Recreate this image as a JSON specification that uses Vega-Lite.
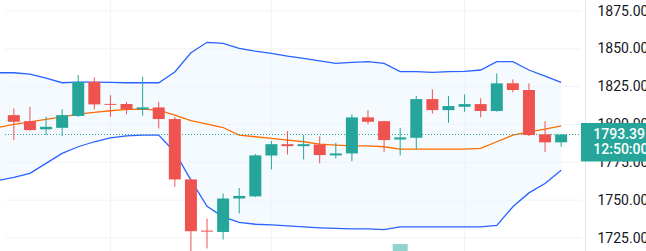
{
  "$schema": "https://vega.github.io/schema/vega-lite/v6.json",
  "width": 646,
  "height": 251,
  "padding": 0,
  "autosize": {"type": "none"},
  "background": "#ffffff",
  "config": {"view": {"stroke": null}},
  "datasets": {
    "candles": [
      {"i": 0, "open": 1806.2, "high": 1810.6, "low": 1789.7, "close": 1801.8},
      {"i": 1, "open": 1802.2, "high": 1811.7, "low": 1796.0, "close": 1796.3},
      {"i": 2, "open": 1796.8, "high": 1805.1, "low": 1793.0, "close": 1798.5},
      {"i": 3, "open": 1797.8, "high": 1810.0, "low": 1792.3, "close": 1806.2},
      {"i": 4, "open": 1805.6, "high": 1832.7, "low": 1805.0, "close": 1828.2},
      {"i": 5, "open": 1828.2, "high": 1831.2, "low": 1810.0, "close": 1813.3},
      {"i": 6, "open": 1813.6, "high": 1819.4, "low": 1805.1, "close": 1813.0},
      {"i": 7, "open": 1813.5, "high": 1815.0, "low": 1806.7, "close": 1810.0},
      {"i": 8, "open": 1810.0, "high": 1831.5, "low": 1805.8, "close": 1811.3},
      {"i": 9, "open": 1811.3, "high": 1815.0, "low": 1797.4, "close": 1803.6},
      {"i": 10, "open": 1803.6, "high": 1805.1, "low": 1758.8, "close": 1763.7},
      {"i": 11, "open": 1763.7, "high": 1764.2, "low": 1712.0, "close": 1729.5},
      {"i": 12, "open": 1729.9, "high": 1737.9, "low": 1718.1, "close": 1729.2},
      {"i": 13, "open": 1729.0, "high": 1754.4, "low": 1724.0, "close": 1751.1},
      {"i": 14, "open": 1751.1, "high": 1758.1, "low": 1741.2, "close": 1752.8},
      {"i": 15, "open": 1752.5, "high": 1780.5, "low": 1752.0, "close": 1779.6},
      {"i": 16, "open": 1779.5, "high": 1789.2, "low": 1770.3, "close": 1787.0},
      {"i": 17, "open": 1787.0, "high": 1795.6, "low": 1780.2, "close": 1785.7},
      {"i": 18, "open": 1785.7, "high": 1793.0, "low": 1776.9, "close": 1787.0},
      {"i": 19, "open": 1786.8, "high": 1792.3, "low": 1774.3, "close": 1779.8},
      {"i": 20, "open": 1779.6, "high": 1787.9, "low": 1777.6, "close": 1780.9},
      {"i": 21, "open": 1780.9, "high": 1806.7, "low": 1775.8, "close": 1804.7},
      {"i": 22, "open": 1804.7, "high": 1809.5, "low": 1800.3, "close": 1801.8},
      {"i": 23, "open": 1802.2, "high": 1802.5, "low": 1781.9, "close": 1789.7},
      {"i": 24, "open": 1790.1, "high": 1797.8, "low": 1779.6, "close": 1791.5},
      {"i": 25, "open": 1791.2, "high": 1818.8, "low": 1783.5, "close": 1816.8},
      {"i": 26, "open": 1816.8, "high": 1823.2, "low": 1807.3, "close": 1809.5},
      {"i": 27, "open": 1809.5, "high": 1818.8, "low": 1801.1, "close": 1812.2},
      {"i": 28, "open": 1811.7, "high": 1819.9, "low": 1808.4, "close": 1813.5},
      {"i": 29, "open": 1813.5, "high": 1817.3, "low": 1804.7, "close": 1808.9},
      {"i": 30, "open": 1808.9, "high": 1833.8, "low": 1808.5, "close": 1827.2},
      {"i": 31, "open": 1827.2, "high": 1829.8, "low": 1821.2, "close": 1822.8},
      {"i": 32, "open": 1822.8, "high": 1827.2, "low": 1792.3, "close": 1793.0},
      {"i": 33, "open": 1793.5, "high": 1802.2, "low": 1781.9, "close": 1788.2},
      {"i": 34, "open": 1788.2, "high": 1793.5, "low": 1785.3, "close": 1793.39}
    ],
    "bands": [
      {"i": -1, "upper": 1834.2, "mid": 1798.0, "lower": 1763.0},
      {"i": 0, "upper": 1834.2, "mid": 1800.1, "lower": 1765.0},
      {"i": 1, "upper": 1833.3, "mid": 1801.8, "lower": 1767.7},
      {"i": 2, "upper": 1830.6, "mid": 1803.4, "lower": 1774.3},
      {"i": 3, "upper": 1827.6, "mid": 1805.1, "lower": 1780.9},
      {"i": 4, "upper": 1828.0, "mid": 1806.9, "lower": 1785.3},
      {"i": 5, "upper": 1828.0, "mid": 1808.0, "lower": 1788.6},
      {"i": 6, "upper": 1827.8, "mid": 1809.1, "lower": 1791.2},
      {"i": 7, "upper": 1827.6, "mid": 1810.0, "lower": 1792.5},
      {"i": 8, "upper": 1827.6, "mid": 1810.2, "lower": 1793.0},
      {"i": 9, "upper": 1827.6, "mid": 1809.5, "lower": 1793.0},
      {"i": 10, "upper": 1834.7, "mid": 1806.2, "lower": 1781.7},
      {"i": 11, "upper": 1847.4, "mid": 1802.6, "lower": 1763.2},
      {"i": 12, "upper": 1854.3, "mid": 1800.3, "lower": 1746.0},
      {"i": 13, "upper": 1853.6, "mid": 1798.0, "lower": 1739.0},
      {"i": 14, "upper": 1850.3, "mid": 1793.0, "lower": 1735.3},
      {"i": 15, "upper": 1848.5, "mid": 1791.9, "lower": 1734.1},
      {"i": 16, "upper": 1847.0, "mid": 1790.8, "lower": 1733.7},
      {"i": 17, "upper": 1845.2, "mid": 1789.7, "lower": 1733.0},
      {"i": 18, "upper": 1843.7, "mid": 1788.6, "lower": 1732.3},
      {"i": 19, "upper": 1842.1, "mid": 1787.0, "lower": 1731.7},
      {"i": 20, "upper": 1840.4, "mid": 1786.4, "lower": 1731.3},
      {"i": 21, "upper": 1841.1, "mid": 1785.9, "lower": 1731.0},
      {"i": 22, "upper": 1841.5, "mid": 1785.9, "lower": 1731.0},
      {"i": 23, "upper": 1840.4, "mid": 1785.3, "lower": 1730.6},
      {"i": 24, "upper": 1834.9, "mid": 1783.7, "lower": 1732.3},
      {"i": 25, "upper": 1834.9, "mid": 1783.7, "lower": 1732.3},
      {"i": 26, "upper": 1834.5, "mid": 1783.7, "lower": 1732.3},
      {"i": 27, "upper": 1834.9, "mid": 1783.7, "lower": 1732.3},
      {"i": 28, "upper": 1835.1, "mid": 1783.7, "lower": 1732.3},
      {"i": 29, "upper": 1836.0, "mid": 1784.2, "lower": 1732.3},
      {"i": 30, "upper": 1841.5, "mid": 1788.6, "lower": 1733.3},
      {"i": 31, "upper": 1841.5, "mid": 1793.0, "lower": 1745.6},
      {"i": 32, "upper": 1836.0, "mid": 1795.2, "lower": 1754.8},
      {"i": 33, "upper": 1832.0, "mid": 1797.0, "lower": 1761.0},
      {"i": 34, "upper": 1827.8, "mid": 1799.1, "lower": 1769.8}
    ],
    "hgrid": [{"p": 1725}, {"p": 1750}, {"p": 1775}, {"p": 1800}, {"p": 1825}, {"p": 1850}, {"p": 1875}],
    "vgrid": [{"i": 6}, {"i": 16}, {"i": 28}],
    "last": [{"price": 1793.39, "time": "12:50:00"}],
    "volume": [{"i": 24, "top": 1721.0}]
  },
  "layer": [
    {
      "data": {"name": "bands"},
      "mark": {"type": "area", "color": "#2196F3", "opacity": 0.05, "clip": true},
      "encoding": {
        "x": {"field": "i", "type": "quantitative", "scale": {"domain": [-0.55, 38.96], "nice": false, "zero": false}, "axis": null},
        "y": {"field": "upper", "type": "quantitative",
          "scale": {"domain": [1716.41, 1882.27], "nice": false, "zero": false},
          "axis": {"orient": "right", "offset": -61, "values": [1725, 1750, 1775, 1800, 1825, 1850, 1875], "format": ".2f",
            "grid": false, "ticks": false, "domain": true, "domainColor": "#e0e3eb", "labelPadding": 12,
            "labelFontSize": 14, "labelFont": "Roboto", "labelColor": "#131722", "title": null,
            "labelBound": false, "labelOverlap": false, "labelFlush": false}},
        "y2": {"field": "lower"}
      }
    },
    {
      "data": {"name": "hgrid"},
      "mark": {"type": "rule", "color": "#f0f3fa", "strokeWidth": 1},
      "encoding": {
        "y": {"field": "p", "type": "quantitative"},
        "x": {"datum": -0.55},
        "x2": {"datum": 35.23}
      }
    },
    {
      "data": {"name": "vgrid"},
      "mark": {"type": "rule", "color": "#f0f3fa", "strokeWidth": 1},
      "encoding": {
        "x": {"field": "i", "type": "quantitative"}
      }
    },
    {
      "data": {"name": "bands"},
      "mark": {"type": "line", "color": "#2962FF", "strokeWidth": 1.3, "clip": true},
      "encoding": {
        "x": {"field": "i", "type": "quantitative"},
        "y": {"field": "upper", "type": "quantitative"}
      }
    },
    {
      "data": {"name": "bands"},
      "mark": {"type": "line", "color": "#2962FF", "strokeWidth": 1.3, "clip": true},
      "encoding": {
        "x": {"field": "i", "type": "quantitative"},
        "y": {"field": "lower", "type": "quantitative"}
      }
    },
    {
      "data": {"name": "bands"},
      "mark": {"type": "line", "color": "#FF6D00", "strokeWidth": 1.3, "clip": true},
      "encoding": {
        "x": {"field": "i", "type": "quantitative"},
        "y": {"field": "mid", "type": "quantitative"}
      }
    },
    {
      "data": {"name": "last"},
      "mark": {"type": "rule", "color": "#26a69a", "strokeWidth": 1, "strokeDash": [1, 2]},
      "encoding": {
        "y": {"field": "price", "type": "quantitative"},
        "x": {"datum": -0.55},
        "x2": {"datum": 35.23}
      }
    },
    {
      "data": {"name": "candles"},
      "mark": {"type": "rule", "strokeWidth": 1},
      "encoding": {
        "x": {"field": "i", "type": "quantitative"},
        "y": {"field": "low", "type": "quantitative"},
        "y2": {"field": "high"},
        "color": {"condition": {"test": "datum.close >= datum.open", "value": "#26a69a"}, "value": "#ef5350"}
      }
    },
    {
      "data": {"name": "candles"},
      "mark": {"type": "bar", "width": 12},
      "encoding": {
        "x": {"field": "i", "type": "quantitative"},
        "y": {"field": "open", "type": "quantitative"},
        "y2": {"field": "close"},
        "color": {"condition": {"test": "datum.close >= datum.open", "value": "#26a69a"}, "value": "#ef5350"}
      }
    },
    {
      "data": {"name": "volume"},
      "mark": {"type": "bar", "width": 15, "color": "#26a69a", "opacity": 0.5},
      "encoding": {
        "x": {"field": "i", "type": "quantitative"},
        "y": {"field": "top", "type": "quantitative"},
        "y2": {"datum": 1716.41}
      }
    },
    {
      "data": {"name": "last"},
      "mark": {"type": "rect", "color": "#26a69a", "yOffset": -11.5, "y2Offset": 27},
      "encoding": {
        "y": {"field": "price", "type": "quantitative"},
        "y2": {"field": "price"},
        "x": {"datum": 35.23},
        "x2": {"datum": 39.5}
      }
    },
    {
      "data": {"name": "last"},
      "mark": {"type": "text", "color": "#ffffff", "font": "Roboto", "fontSize": 14, "fontWeight": 500, "align": "left", "baseline": "middle", "dy": 0.5},
      "encoding": {
        "y": {"field": "price", "type": "quantitative"},
        "x": {"datum": 36.0},
        "text": {"field": "price", "type": "quantitative", "format": ".2f"}
      }
    },
    {
      "data": {"name": "last"},
      "mark": {"type": "text", "color": "#ffffff", "font": "Roboto", "fontSize": 14, "fontWeight": 500, "align": "left", "baseline": "middle", "dy": 15},
      "encoding": {
        "y": {"field": "price", "type": "quantitative"},
        "x": {"datum": 36.0},
        "text": {"field": "time", "type": "nominal"}
      }
    }
  ]
}
